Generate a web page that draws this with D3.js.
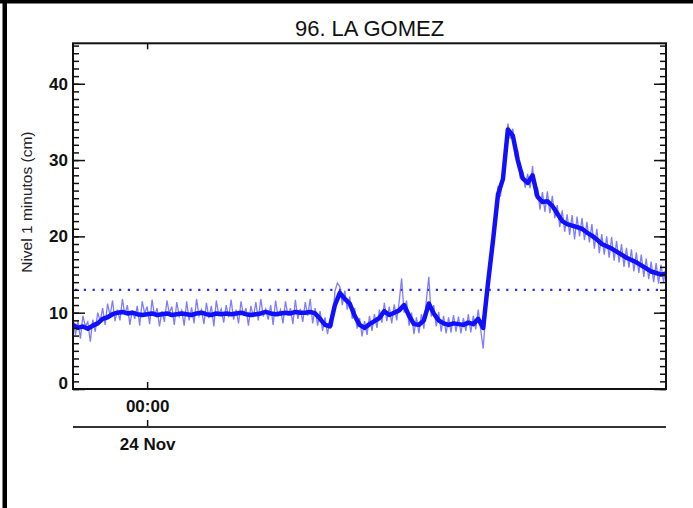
<!DOCTYPE html>
<html>
<head>
<meta charset="utf-8">
<script src="https://cdn.jsdelivr.net/npm/d3@7"></script>
<style>
  html, body { margin: 0; padding: 0; background: #fff; }
  svg { display: block; }
  text { font-family: "Liberation Sans", Arial, Helvetica, sans-serif; }
</style>
</head>
<body>
<svg id="chart" width="693" height="508"></svg>
<script>
// ---------------- data ----------------
const title = "96. LA GOMEZ";
const yLabel = "Nivel 1 minutos (cm)";
const startTime = Date.UTC(2023, 10, 23, 23, 0);   // 23 Nov 23:00
const endTime = Date.UTC(2023, 10, 24, 7, 0);      // 24 Nov 07:00
const levelStepMin = 4;                            // minutes between level samples
const rawStepMin = 2;                              // minutes between raw samples
const threshold = 13;
const yTickValues = [0, 10, 20, 30, 40];
const yMinorTickValues = d3.range(0, 46, 1);
const timeTickLabel = "00:00";
const dateTickLabel = "24 Nov";
const timeTick = Date.UTC(2023, 10, 24, 0, 0);

// smoothed 1-minute level (band centre), every 4 min
const level = [
  8.4, 8.0, 8.2, 7.9, 8.3, 8.6, 9.2, 9.4, 9.8, 10.0,
  10.1, 9.9, 10.0, 9.8, 9.7, 9.8, 9.9, 9.7, 9.8, 9.9,
  9.7, 9.8, 9.9, 9.8, 9.7, 9.9, 10.0, 9.8, 9.7, 9.9,
  9.8, 9.9, 9.8, 9.9, 10.0, 9.8, 9.7, 9.8, 9.9, 10.1,
  9.9, 9.8, 9.9, 10.0, 9.9, 10.1, 10.0, 10.0, 10.1, 9.9,
  9.2, 8.4, 8.2, 11.0, 12.6, 11.8, 11.2, 9.6, 8.4, 8.0,
  8.5, 8.9, 9.3, 10.2, 9.7, 10.0, 10.3, 11.0, 9.6, 8.5,
  8.4, 9.0, 11.2, 9.9, 9.0, 8.6, 8.4, 8.6, 8.5, 8.4,
  8.7, 8.5, 9.2, 8.0, 14.0, 19.5, 25.5, 27.5, 34.0, 33.2,
  30.0, 27.6, 27.0, 28.0, 25.2, 24.5, 24.6, 24.0, 23.0, 22.0,
  21.6, 21.4, 21.2, 21.0, 20.5, 20.1, 19.6, 19.0, 18.7, 18.4,
  18.0, 17.6, 17.2, 16.9, 16.6, 16.2, 15.8, 15.4, 15.2, 15.0,
  15.1
];

// raw noisy readings, every 2 min
const raw = [
  9.3, 7.1, 8.9, 6.6, 9.6, 8.2, 8.8, 6.2, 9.1, 7.5,
  10.0, 8.9, 10.6, 8.4, 11.2, 9.6, 11.6, 8.9, 10.4, 9.0,
  11.8, 9.7, 11.0, 8.4, 10.3, 9.2, 10.9, 8.3, 11.5, 9.9,
  10.8, 8.5, 11.7, 9.6, 10.6, 8.2, 10.2, 8.8, 11.6, 9.9,
  10.8, 8.4, 11.4, 9.5, 10.3, 8.3, 11.5, 9.0, 10.7, 8.6,
  11.8, 9.6, 10.4, 8.5, 11.3, 9.3, 10.9, 8.2, 11.6, 9.7,
  10.5, 8.7, 11.0, 9.4, 11.7, 9.1, 10.4, 8.6, 11.5, 9.6,
  10.6, 8.3, 10.9, 9.4, 11.4, 9.0, 11.8, 9.5, 10.5, 9.1,
  11.0, 8.4, 11.6, 9.5, 10.4, 8.6, 11.5, 9.6, 10.6, 8.5,
  11.7, 9.2, 10.5, 8.8, 11.4, 9.6, 11.8, 8.6, 10.6, 8.3,
  10.2, 7.6, 9.4, 7.2, 9.0, 8.4, 12.8, 13.9, 13.4, 11.0,
  12.9, 10.4, 12.1, 9.2, 10.6, 7.9, 9.3, 6.9, 8.9, 7.1,
  9.6, 7.6, 9.8, 8.0, 10.4, 8.7, 11.3, 8.9, 10.8, 8.6,
  11.1, 9.0, 11.4, 14.5, 10.0, 11.6, 8.3, 10.0, 7.2, 9.4,
  7.3, 9.8, 7.9, 11.6, 14.7, 9.5, 11.0, 8.2, 10.1, 7.5,
  9.6, 7.3, 9.4, 7.4, 9.7, 7.5, 9.5, 7.3, 9.3, 7.6,
  9.8, 7.4, 9.6, 7.8, 10.4, 7.8, 5.3, 9.6, 14.6, 15.8,
  20.6, 21.6, 26.6, 25.2, 28.4, 29.6, 34.8, 32.8, 34.1, 30.6,
  31.1, 27.6, 28.6, 26.4, 28.2, 26.3, 29.2, 25.3, 26.4, 23.5,
  25.8, 23.2, 25.9, 23.0, 25.3, 22.4, 24.1, 21.2, 23.4, 20.6,
  22.9, 20.2, 22.8, 19.6, 22.6, 20.0, 22.4, 19.5, 21.9, 19.2,
  21.6, 18.4, 21.0, 17.8, 20.3, 17.6, 20.0, 17.2, 19.9, 16.8,
  19.4, 16.6, 19.0, 16.0, 18.5, 15.9, 18.3, 15.4, 17.9, 15.2,
  17.6, 14.7, 17.1, 14.4, 16.7, 14.0, 16.5, 13.8, 16.3, 14.0,
  16.0
];

// ---------------- layout ----------------
const plot = { left: 73, right: 666, top: 43.3, bottom: 389 };
const dateAxisY = 427;

const svg = d3.select("#chart");

// page frame (black bars at top and left)
svg.append("rect").attr("x", 0).attr("y", 0).attr("width", 693).attr("height", 3.5).attr("fill", "#000");
svg.append("rect").attr("x", 2.5).attr("y", 0).attr("width", 4.5).attr("height", 508).attr("fill", "#000");

const x = d3.scaleUtc().domain([startTime, endTime]).range([plot.left, plot.right]);
const y = d3.scaleLinear().domain([0, 45.3]).range([plot.bottom, plot.top]);

const levelData = level.map((v, i) => ({ t: startTime + i * levelStepMin * 60000, v }));
const rawData = raw.map((v, i) => ({ t: startTime + i * rawStepMin * 60000, v }));

// clip
svg.append("clipPath").attr("id", "clip").append("rect")
  .attr("x", plot.left).attr("y", plot.top)
  .attr("width", plot.right - plot.left).attr("height", plot.bottom - plot.top);

const g = svg.append("g").attr("clip-path", "url(#clip)");

// threshold dotted line
g.append("line")
  .attr("x1", plot.left + 2).attr("x2", plot.right)
  .attr("y1", y(threshold)).attr("y2", y(threshold))
  .attr("stroke", "#2a2aff").attr("stroke-width", 2.2)
  .attr("stroke-dasharray", "2.2,6.6");

const line = d3.line().x(d => x(d.t)).y(d => y(d.v));

g.append("path").datum(rawData)
  .attr("d", line)
  .attr("fill", "none")
  .attr("stroke", "#5c5cff")
  .attr("stroke-width", 1.3)
  .attr("stroke-opacity", 0.8);

g.append("path").datum(levelData)
  .attr("d", line)
  .attr("fill", "none")
  .attr("stroke", "#1010ff")
  .attr("stroke-width", 4.5)
  .attr("stroke-linejoin", "round");

// ---------------- axes ----------------
const axisColor = "#111";
function styleAxis(sel) {
  sel.select(".domain").remove();
  sel.selectAll(".tick line").attr("stroke", axisColor).attr("stroke-width", 1.5);
}

// left axis: minor + major, inward ticks
svg.append("g").attr("transform", `translate(${plot.left},0)`)
  .call(d3.axisLeft(y).tickValues(yMinorTickValues).tickSize(-6).tickFormat(""))
  .call(styleAxis);
const yAxisL = svg.append("g").attr("transform", `translate(${plot.left},0)`)
  .call(d3.axisLeft(y).tickValues(yTickValues).tickSize(-12).tickPadding(5).tickFormat(d3.format("d")))
  .call(styleAxis);
yAxisL.selectAll("text")
  .attr("font-size", 17).attr("font-weight", "bold").attr("fill", "#111")
  .attr("dy", d => d === 0 ? "-0.05em" : "0.32em");

// right axis
svg.append("g").attr("transform", `translate(${plot.right},0)`)
  .call(d3.axisRight(y).tickValues(yMinorTickValues).tickSize(-6).tickFormat(""))
  .call(styleAxis);
svg.append("g").attr("transform", `translate(${plot.right},0)`)
  .call(d3.axisRight(y).tickValues(yTickValues).tickSize(-12).tickFormat(""))
  .call(styleAxis);

// top axis
svg.append("g").attr("transform", `translate(0,${plot.top})`)
  .call(d3.axisTop(x).tickValues([timeTick]).tickSize(-6).tickFormat(""))
  .call(styleAxis);

// bottom time axis
const xAxisB = svg.append("g").attr("transform", `translate(0,${plot.bottom})`)
  .call(d3.axisBottom(x).tickValues([timeTick]).tickSize(-7).tickPadding(11).tickFormat(() => timeTickLabel))
  .call(styleAxis);
xAxisB.selectAll("text").attr("font-size", 17).attr("font-weight", "bold").attr("fill", "#111");

// plot frame
svg.append("rect")
  .attr("x", plot.left).attr("y", plot.top)
  .attr("width", plot.right - plot.left).attr("height", plot.bottom - plot.top)
  .attr("fill", "none").attr("stroke", axisColor).attr("stroke-width", 2);

// date axis
const xAxisD = svg.append("g").attr("transform", `translate(0,${dateAxisY})`)
  .call(d3.axisBottom(x).tickValues([timeTick]).tickSize(-7).tickPadding(11).tickFormat(() => dateTickLabel))
  .call(styleAxis);
xAxisD.append("line").attr("x1", plot.left).attr("x2", plot.right)
  .attr("stroke", "#333").attr("stroke-width", 2);
xAxisD.selectAll("text").attr("font-size", 17).attr("font-weight", "bold").attr("fill", "#111");

// title
svg.append("text")
  .attr("x", (plot.left + plot.right) / 2).attr("y", 36)
  .attr("text-anchor", "middle")
  .attr("font-size", 22).attr("fill", "#111")
  .text(title);

// y label
svg.append("text")
  .attr("transform", `translate(32,${(plot.top + plot.bottom) / 2 - 14}) rotate(-90)`)
  .attr("text-anchor", "middle")
  .attr("font-size", 15.5).attr("fill", "#222")
  .text(yLabel);
</script>
</body>
</html>
